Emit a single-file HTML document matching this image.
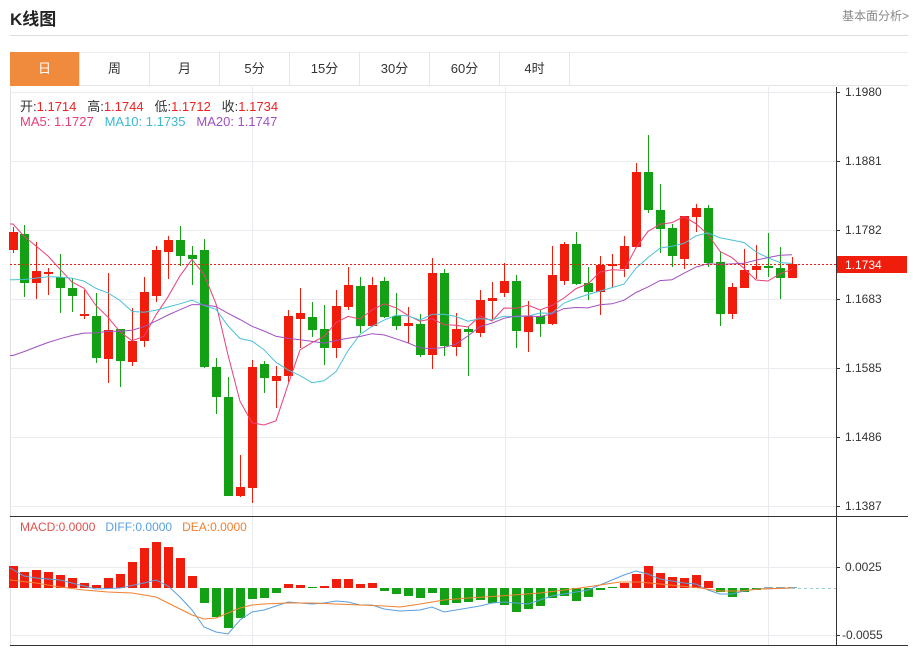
<!DOCTYPE html>
<html><head><meta charset="utf-8"><style>
body{margin:0;background:#fff;font-family:"Liberation Sans","Noto Sans CJK SC",sans-serif;}
#w{position:relative;width:913px;height:650px;overflow:hidden;}
.t{position:absolute;white-space:nowrap;}
.tab{position:absolute;top:52px;height:34px;width:70px;line-height:34px;text-align:center;font-size:13px;color:#333;border-right:1px solid #e5e5e5;box-sizing:border-box;}
</style></head><body><div id="w">
<div class="t" style="left:10px;top:5px;font-size:17px;font-weight:bold;color:#222;">K线图</div>
<div class="t" style="left:842px;top:7px;font-size:12px;color:#888;">基本面分析&gt;</div>
<div style="position:absolute;left:10px;top:35px;width:898px;height:1px;background:#ddd"></div>
<div style="position:absolute;left:10px;top:52px;width:898px;height:34px;border-bottom:1px solid #e5e5e5;border-top:1px solid #eee;box-sizing:border-box"></div>
<div class="tab" style="left:10px;background:#f08a3c;color:#fff">日</div>
<div class="tab" style="left:80px">周</div>
<div class="tab" style="left:150px">月</div>
<div class="tab" style="left:220px">5分</div>
<div class="tab" style="left:290px">15分</div>
<div class="tab" style="left:360px">30分</div>
<div class="tab" style="left:430px">60分</div>
<div class="tab" style="left:500px">4时</div>
<svg id="s" width="913" height="650" style="position:absolute;left:0;top:0"></svg>
<div class="t" style="left:20px;top:96px;font-size:13px;color:#333">开:<span style="color:#e22">1.1714</span>&nbsp;&nbsp; 高:<span style="color:#e22">1.1744</span>&nbsp;&nbsp; 低:<span style="color:#e22">1.1712</span>&nbsp;&nbsp; 收:<span style="color:#e22">1.1734</span></div>
<div class="t" style="left:20px;top:114px;font-size:13px;"><span style="color:#e8407a">MA5: 1.1727</span>&nbsp;&nbsp; <span style="color:#3ab8d0">MA10: 1.1735</span>&nbsp;&nbsp; <span style="color:#a050c0">MA20: 1.1747</span></div>
<div class="t" style="left:20px;top:520px;font-size:12px;"><span style="color:#e05050">MACD:0.0000</span>&nbsp;&nbsp; <span style="color:#5aa0e0">DIFF:0.0000</span>&nbsp;&nbsp; <span style="color:#f08030">DEA:0.0000</span></div>
</div>
<script>
var s=document.getElementById('s'),h='';
function L(x1,y1,x2,y2,c,w,d){h+='<line x1="'+x1+'" y1="'+y1+'" x2="'+x2+'" y2="'+y2+'" stroke="'+c+'" stroke-width="'+(w||1)+'"'+(d?' stroke-dasharray="'+d+'"':'')+'/>';}
function T(x,y,t,c,sz){h+='<text x="'+x+'" y="'+y+'" font-size="'+(sz||12)+'" fill="'+(c||'#333')+'" font-family="Liberation Sans,sans-serif">'+t+'</text>';}
var G='#e8ecf0';
var pr=[[92,'1.1980'],[161,'1.1881'],[230,'1.1782'],[299,'1.1683'],[368,'1.1585'],[437,'1.1486'],[506,'1.1387']];
pr.forEach(function(p){L(10,p[0]+.5,836,p[0]+.5,G);L(836,p[0]+.5,840,p[0]+.5,'#333');T(845,p[0]+4,p[1]);});
[252.5,505.5,768.5].forEach(function(x){L(x,87,x,645,G);});
L(10.5,87,10.5,645,'#e0e0e0');
L(836.5,87,836.5,645,'#333');L(10,516.5,908,516.5,'#333');L(10,645.5,908,645.5,'#333');
L(10,567.5,836,567.5,G);L(10,635.5,836,635.5,G);
L(836,567.5,840,567.5,'#333');L(836,635.5,840,635.5,'#333');
T(845,571,'0.0025');T(842,639,'-0.0055');
var C=[[13,1,232,250,227,253],[24,0,234,283,225,297],[36,1,271,283,242,299],[48,1,272,274,268,295],[60,0,277,288,254,313],[72,0,288,296,278,312],[84,1,314,316,290,319],[96,0,316,358,293,363],[108,1,330,359,273,383],[120,0,329,361,329,387],[132,1,341,362,308,366],[144,1,292,341,277,347],[156,1,250,296,246,302],[168,1,240,252,236,279],[180,0,240,256,226,266],[192,0,255,259,246,285],[204,0,250,367,239,368],[216,0,367,397,358,414],[228,0,397,496,377,496],[240,1,487,496,455,497],[252,1,367,488,360,503],[264,0,364,378,361,393],[276,1,376,381,366,408],[288,1,316,376,310,382],[300,1,313,319,288,348],[312,0,317,330,302,337],[324,0,329,348,305,365],[336,1,306,348,290,358],[348,1,285,307,267,310],[360,0,286,326,277,333],[372,1,285,326,277,327],[384,0,281,317,277,318],[396,0,316,326,293,330],[408,1,323,326,307,343],[420,0,324,355,314,357],[432,1,273,355,258,369],[444,0,273,346,269,356],[456,1,329,347,313,356],[468,0,329,332,327,376],[480,1,300,333,290,337],[492,1,298,301,282,320],[504,1,281,293,263,297],[516,0,281,331,275,348],[528,1,316,332,301,352],[540,0,316,324,310,337],[552,1,275,324,246,325],[564,1,244,281,242,285],[576,0,244,284,232,285],[588,0,283,292,267,300],[600,1,265,292,256,315],[612,1,264,266,254,287],[624,1,246,269,236,277],[636,1,172,247,163,247],[648,0,172,210,135,213],[660,0,210,229,184,253],[672,0,228,256,224,267],[684,1,216,259,216,269],[696,1,208,217,204,232],[708,0,208,263,205,267],[720,0,262,314,252,326],[732,1,287,314,283,319],[744,1,270,288,249,288],[756,1,266,270,245,279],[768,0,266,268,233,277],[780,0,268,278,247,299],[792,1,264,278,257,278]];
var R='#f01c0c',GR='#14a014';
var cl=C.map(function(c){return c[1]?c[2]:c[3];});
function ma(n,pad,col){var pts=[];for(var i=0;i<cl.length;i++){var sm=0;for(var k=i-n+1;k<=i;k++)sm+=k<0?pad:cl[k];pts.push(C[i][0]+','+(sm/n).toFixed(1));}
pts.unshift('10,'+pts[0].split(',')[1]);h+='<polyline fill="none" stroke="'+col+'" stroke-width="1" points="'+pts.join(' ')+'"/>';}
C.forEach(function(c){var col=c[1]?R:GR;L(c[0]+.5,c[4],c[0]+.5,c[5],col);h+='<rect x="'+(c[0]-4)+'" y="'+c[2]+'" width="9" height="'+Math.max(1,c[3]-c[2])+'" fill="'+col+'"/>';});
ma(5,222,'#e8407a');ma(10,285,'#4cc0d8');ma(20,362,'#a050c0');
L(10,264.5,836,264.5,R,1,'2,2');
h+='<rect x="837" y="256" width="70" height="17" fill="'+R+'"/>';T(845,269,'1.1734','#fff');
var M=[566,572,570,572,575,578,583,585,578,574,562,548,542,547,558,576,603,617,628,618,599,598,593,584,585,587,586,579,579,584,583,591,594,596,598,593,605,603,602,600,603,605,612,609,606,598,596,601,597,590,589,583,574,566,573,577,578,575,581,592,597,592,590,589,589,589];
M.forEach(function(v,i){var x=C[i][0];var z=588;if(Math.abs(v-z)<1.5){h+='<rect x="'+(x-4)+'" y="587" width="9" height="1" fill="'+(i>60?'#8ab':GR)+'"/>';return;}
var col=v<z?R:GR;h+='<rect x="'+(x-4)+'" y="'+Math.min(v,z)+'" width="9" height="'+Math.abs(v-z)+'" fill="'+col+'"/>';});
L(792,588.5,836,588.5,'#9cc',1,'3,3');
h+='<polyline fill="none" stroke="#5aa0e0" points="10,568 24,576 36,578 60,580 84,586 96,589 120,588 144,583 156,580 168,586 180,597 192,610 204,627 216,632 228,634 240,620 252,612 264,610 288,602 300,603 312,604 324,603 336,601 348,602 360,605 372,605 384,609 400,611 420,610 432,607 444,612 456,610 468,608 480,606 492,603 504,602 516,603 528,604 540,600 552,596 564,594 576,592 588,590 600,585 612,580 624,575 636,571 648,574 660,579 672,581 684,583 696,584 708,590 720,594 732,594 744,591 756,589 792,588"/>';
h+='<polyline fill="none" stroke="#f08030" points="10,580 36,583 60,587 84,590 108,592 132,593 144,595 156,597 168,603 180,609 192,615 204,619 216,618 228,613 240,608 252,605 264,604 288,603 312,603 336,604 360,605 384,606 400,607 420,604 444,600 468,598 500,596 540,593 580,588 620,582 640,582 660,584 680,586 700,588 720,591 740,591 760,589 792,588"/>';
s.innerHTML=h;
</script>
</body></html>
